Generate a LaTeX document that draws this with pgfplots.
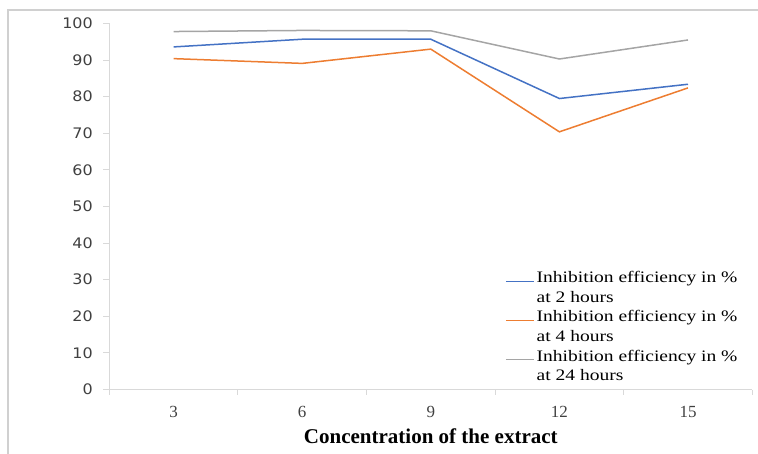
\documentclass[border=0pt]{standalone}
\usepackage{pgfplots}
\pgfplotsset{compat=1.18}
\usepackage{fontspec}
\setmainfont{Liberation Serif}
\newfontfamily\dejavu[FakeStretch=1.1]{DejaVu Sans}
\newfontfamily\legfont[FakeStretch=1.22]{Liberation Serif}
\definecolor{cblue}{HTML}{4472C4}
\definecolor{corange}{HTML}{ED7D31}
\definecolor{cgray}{HTML}{A5A5A5}
\definecolor{axgray}{HTML}{D9D9D9}
\definecolor{framegray}{HTML}{D0D0D0}
\definecolor{ticktext}{HTML}{404040}
\begin{document}
\begin{tikzpicture}
\useasboundingbox (0,0) rectangle (758bp,454bp);
\draw[framegray, line width=1.5bp] (8bp,0) -- (8bp,444bp) -- (758bp,444bp);
\begin{axis}[
  at={(109.3bp,64.5bp)}, anchor=south west, scale only axis,
  width=643bp, height=366bp,
  xmin=-0.5, xmax=4.5, ymin=0, ymax=100,
  axis lines=left,
  axis line style={-, draw=axgray, line width=1bp},
  tick align=outside,
  xtick={0,1,2,3,4},
  xticklabels={3,6,9,12,15},
  minor xtick={-0.5,0.5,1.5,2.5,3.5,4.5},
  major x tick style={draw=none},
  minor x tick style={draw=axgray, line width=1bp},
  minor tick length=5bp,
  major tick length=6bp,
  ytick={0,10,...,100},
  y tick style={draw=axgray, line width=1bp},
  /pgf/number format/assume math mode=true,
  yticklabel style={font=\dejavu\fontsize{14.5bp}{18bp}\selectfont, text=ticktext, xshift=-7bp},
  xticklabel style={font=\fontsize{17bp}{20bp}\selectfont, text=ticktext, yshift=-7bp},
  xlabel={\textbf{Concentration of the extract}},
  xlabel style={font=\fontsize{21bp}{24bp}\selectfont, at={(axis description cs:0.5,0)}, anchor=base, yshift=-54bp},
  legend style={at={(axis description cs:0.6154,0.325)}, anchor=north west, draw=none, fill=none,
     font=\legfont\fontsize{16bp}{18bp}\selectfont, inner sep=0pt, row sep=3.6bp, column sep=2bp,
     nodes={inner sep=0pt, anchor=base west, text height=12bp, text depth=4bp}},
  legend cell align=left,
  clip=false,
]
\addlegendimage{legend image code/.code={\draw[draw=cblue, line width=1.5bp] (0bp,1.5bp) -- (28bp,1.5bp);}}
\addlegendentry{Inhibition efficiency in \%}
\addlegendimage{empty legend}
\addlegendentry{at 2 hours}
\addlegendimage{legend image code/.code={\draw[draw=corange, line width=1.5bp] (0bp,1.5bp) -- (28bp,1.5bp);}}
\addlegendentry{Inhibition efficiency in \%}
\addlegendimage{empty legend}
\addlegendentry{at 4 hours}
\addlegendimage{legend image code/.code={\draw[draw=cgray, line width=1.5bp] (0bp,1.5bp) -- (28bp,1.5bp);}}
\addlegendentry{Inhibition efficiency in \%}
\addlegendimage{empty legend}
\addlegendentry{at 24 hours}
\addplot[cblue, line width=1.5bp, forget plot] coordinates {(0,93.6) (1,95.7) (2,95.7) (3,79.5) (4,83.4)};
\addplot[corange, line width=1.5bp, forget plot] coordinates {(0,90.4) (1,89.1) (2,93.0) (3,70.4) (4,82.4)};
\addplot[cgray, line width=1.5bp, forget plot] coordinates {(0,97.8) (1,98.1) (2,98.0) (3,90.3) (4,95.5)};
\end{axis}
\end{tikzpicture}
\end{document}
